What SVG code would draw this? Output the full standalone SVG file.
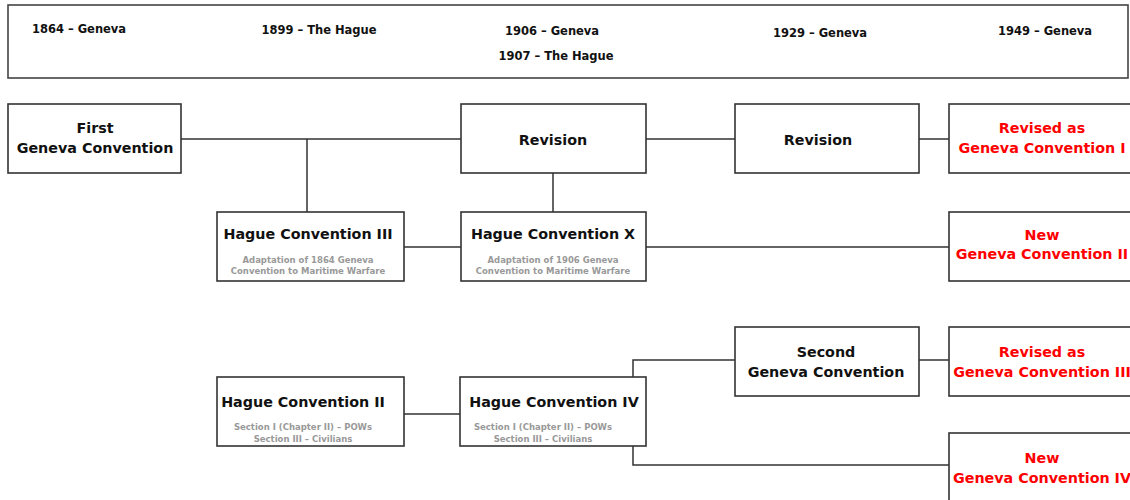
<svg xmlns="http://www.w3.org/2000/svg" width="1130" height="500" viewBox="0 0 1130 500">
<style>
text{font-family:"DejaVu Sans","Liberation Sans",sans-serif;font-weight:bold;text-anchor:middle}
.hdr{font-size:11.5px;fill:#111}
.box{fill:#fff;stroke:#333;stroke-width:1.6}
.t{font-size:14.3px;fill:#111}
.r{font-size:14.3px;fill:#f00}
.s{font-size:8.5px;fill:#999}
.c{fill:none;stroke:#333;stroke-width:1.5}
</style>
<rect width="1130" height="500" fill="#fff"/>
<g id="header">
<rect x="8" y="5" width="1120" height="73" fill="#fff" stroke="#444" stroke-width="1.6"/>
<text class="hdr" x="79" y="33">1864 – Geneva</text>
<text class="hdr" x="319" y="34">1899 – The Hague</text>
<text class="hdr" x="552" y="35">1906 – Geneva</text>
<text class="hdr" x="556" y="60">1907 – The Hague</text>
<text class="hdr" x="820" y="37">1929 – Geneva</text>
<text class="hdr" x="1045" y="35">1949 – Geneva</text>
</g>
<g id="connectors">
<path class="c" d="M181 139H461M307 139V212M646 139H735M919 139H949M553 173V212"/>
<path class="c" d="M404 247H461M646 247H949"/>
<path class="c" d="M404 414H460M633 377V360H735M633 446V465H949M919 360H949"/>
</g>
<g id="first-gc">
<rect class="box" x="8" y="104" width="173" height="69"/>
<text class="t" x="95" y="133">First</text>
<text class="t" x="95" y="153">Geneva Convention</text>
</g>
<g id="revision-1906">
<rect class="box" x="461" y="104" width="185" height="69"/>
<text class="t" x="553" y="145">Revision</text>
</g>
<g id="revision-1929">
<rect class="box" x="735" y="104" width="184" height="69"/>
<text class="t" x="818" y="145">Revision</text>
</g>
<g id="gc1">
<rect class="box" x="949" y="104" width="186" height="69"/>
<text class="r" x="1042" y="133">Revised as</text>
<text class="r" x="1042" y="153">Geneva Convention I</text>
</g>
<g id="hague3">
<rect class="box" x="217" y="212" width="187" height="69"/>
<text class="t" x="308" y="239">Hague Convention III</text>
<text class="s" x="308" y="263">Adaptation of 1864 Geneva</text>
<text class="s" x="308" y="274">Convention to Maritime Warfare</text>
</g>
<g id="hague10">
<rect class="box" x="461" y="212" width="185" height="69"/>
<text class="t" x="553" y="239">Hague Convention X</text>
<text class="s" x="553" y="263">Adaptation of 1906 Geneva</text>
<text class="s" x="553" y="274">Convention to Maritime Warfare</text>
</g>
<g id="gc2">
<rect class="box" x="949" y="212" width="186" height="69"/>
<text class="r" x="1042" y="240">New</text>
<text class="r" x="1042" y="259">Geneva Convention II</text>
</g>
<g id="second-gc">
<rect class="box" x="735" y="327" width="184" height="69"/>
<text class="t" x="826" y="357">Second</text>
<text class="t" x="826" y="377">Geneva Convention</text>
</g>
<g id="gc3">
<rect class="box" x="949" y="327" width="186" height="69"/>
<text class="r" x="1042" y="357">Revised as</text>
<text class="r" x="1042" y="377">Geneva Convention III</text>
</g>
<g id="hague2">
<rect class="box" x="217" y="377" width="187" height="69"/>
<text class="t" x="303" y="407">Hague Convention II</text>
<text class="s" x="303" y="430">Section I (Chapter II) – POWs</text>
<text class="s" x="303" y="442">Section III – Civilians</text>
</g>
<g id="hague4">
<rect class="box" x="460" y="377" width="186" height="69"/>
<text class="t" x="554" y="407">Hague Convention IV</text>
<text class="s" x="543" y="430">Section I (Chapter II) – POWs</text>
<text class="s" x="543" y="442">Section III – Civilians</text>
</g>
<g id="gc4">
<rect class="box" x="949" y="433" width="186" height="80"/>
<text class="r" x="1042" y="463">New</text>
<text class="r" x="1042" y="483">Geneva Convention IV</text>
</g>
</svg>
